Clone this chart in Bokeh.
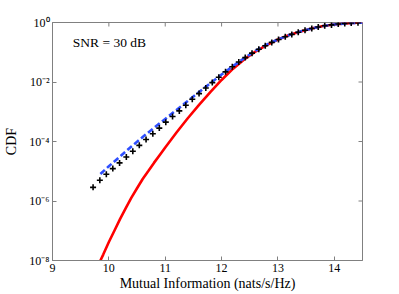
import math
from bokeh.plotting import figure
from bokeh.models import FixedTicker, Label
from bokeh.embed import file_html
from bokeh.resources import INLINE

# Simulated CDF (black plus markers)
sim_x = [9.72, 9.84, 9.955, 10.07, 10.19, 10.31, 10.425, 10.54, 10.66, 10.78,
         10.895, 11.01, 11.13, 11.25, 11.365, 11.48, 11.60, 11.72, 11.835, 11.95,
         12.07, 12.19, 12.305, 12.42, 12.54, 12.66, 12.775, 12.89, 13.01, 13.13,
         13.245, 13.36, 13.48, 13.60, 13.715, 13.83, 13.95, 14.07, 14.185, 14.30, 14.42]
sim_cdf = [2.88e-6, 5.01e-6, 7.94e-6, 1.23e-5, 1.91e-5, 3.02e-5, 4.68e-5, 7.41e-5, 1.17e-4, 1.82e-4,
           2.82e-4, 4.47e-4, 6.92e-4, 1.07e-3, 1.66e-3, 2.63e-3, 4.07e-3, 6.31e-3, 9.55e-3, 1.45e-2,
           2.19e-2, 3.24e-2, 4.68e-2, 6.61e-2, 9.33e-2, 0.126, 0.166, 0.214, 0.269, 0.331,
           0.398, 0.468, 0.550, 0.631, 0.708, 0.776, 0.832, 0.891, 0.933, 0.966, 0.989]

# Approximation 1 (blue dashed)
approx1_x = [9.85, 10.0, 10.2, 10.4, 10.6, 10.8, 11.0, 11.2, 11.4, 11.6, 11.8, 12.0, 12.2,
             12.4, 12.6, 12.8, 13.0, 13.2, 13.4, 13.6, 13.8, 14.0, 14.2, 14.4, 14.5]
approx1_cdf = [8.13e-6, 1.48e-5, 3.16e-5, 6.76e-5, 1.41e-4, 2.88e-4, 5.75e-4, 1.15e-3, 2.29e-3,
               4.57e-3, 9.12e-3, 1.78e-2, 3.39e-2, 6.31e-2, 0.112, 0.180, 0.269, 0.380, 0.501,
               0.631, 0.759, 0.861, 0.933, 0.977, 0.989]

# Approximation 2 (red solid)
approx2_x = [9.80, 9.85, 9.90, 10.0, 10.1, 10.2, 10.3, 10.4, 10.5, 10.6, 10.7, 10.8, 10.9,
             11.0, 11.1, 11.2, 11.4, 11.6, 11.8, 12.0, 12.2, 12.4, 12.6, 12.8, 13.0, 13.2,
             13.4, 13.6, 13.8, 14.0, 14.2, 14.4, 14.5]
approx2_cdf = [6.31e-9, 1.0e-8, 1.58e-8, 4.17e-8, 1.02e-7, 2.51e-7, 5.75e-7, 1.29e-6, 2.69e-6,
               5.50e-6, 1.02e-5, 1.91e-5, 3.47e-5, 6.31e-5, 1.12e-4, 2.00e-4, 6.03e-4, 1.70e-3,
               4.57e-3, 1.17e-2, 2.75e-2, 5.75e-2, 0.105, 0.174, 0.269, 0.380, 0.501, 0.631,
               0.759, 0.861, 0.933, 0.977, 0.989]

xtick_values = [9, 10, 11, 12, 13, 14]
ytick_values = [1e-8, 1e-6, 1e-4, 1e-2, 1.0]
ytick_labels = ["10\u207b\u2078", "10\u207b\u2076", "10\u207b\u2074", "10\u207b\u00b2", "10\u2070"]

annotation_text = "SNR = 30 dB"
x_label = "Mutual Information (nats/s/Hz)"
y_label = "CDF"

X_MIN, X_MAX = 9, 14.5
Y_MIN, Y_MAX = 1e-8, 1.0

FONT = "Liberation Serif"
AXIS_COLOR = "#808080"

p = figure(width=399, height=294, output_backend="svg", toolbar_location=None,
           y_axis_type="log", x_range=(X_MIN, X_MAX), y_range=(Y_MIN, Y_MAX),
           min_border_left=52, min_border_right=37, min_border_top=22, min_border_bottom=34)
p.grid.visible = False
p.outline_line_color = AXIS_COLOR
p.background_fill_color = "white"
p.border_fill_color = "white"


def style_axis(ax):
    ax.axis_line_color = AXIS_COLOR
    ax.major_tick_line_color = AXIS_COLOR
    ax.major_tick_in = 4
    ax.major_tick_out = 0
    ax.minor_tick_line_color = None
    ax.major_label_text_font = FONT
    ax.major_label_text_font_size = "12px"
    ax.major_label_text_color = "black"
    ax.major_label_standoff = 3
    ax.axis_label_text_font = FONT
    ax.axis_label_text_font_size = "14px"
    ax.axis_label_text_font_style = "normal"
    ax.axis_label_text_color = "black"


xaxis = p.xaxis[0]
xaxis.ticker = FixedTicker(ticks=xtick_values)
xaxis.axis_label = x_label
xaxis.axis_label_standoff = 1
style_axis(xaxis)

yaxis = p.yaxis[0]
yaxis.ticker = FixedTicker(ticks=ytick_values)
yaxis.major_label_overrides = {v: lab for v, lab in zip(ytick_values, ytick_labels)}
yaxis.axis_label = y_label
yaxis.axis_label_standoff = 7
style_axis(yaxis)

# mirrored inward tick marks on the top and right edges of the box
p.scatter(xtick_values, [Y_MAX] * len(xtick_values), marker="dash", angle=math.pi / 2,
          size=8, line_color=AXIS_COLOR, line_width=1)
p.scatter([X_MAX] * len(ytick_values), ytick_values, marker="dash",
          size=8, line_color=AXIS_COLOR, line_width=1)

p.line(approx2_x, approx2_cdf, line_color="#ff0000", line_width=2.6)
p.line(approx1_x, approx1_cdf, line_color="#2f4fff", line_width=2.6, line_dash="6 3")
p.scatter(sim_x, sim_cdf, marker="cross", size=6, line_color="black", line_width=1.6)

label = Label(x=9.36, y=0.21, text=annotation_text, text_font=FONT,
              text_font_size="13.5px", text_color="black", text_baseline="middle")
p.add_layout(label)

open("out.html", "w").write(file_html(p, INLINE))
